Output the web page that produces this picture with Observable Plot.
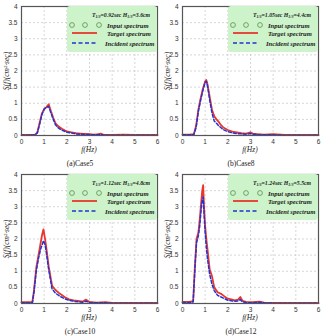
<!DOCTYPE html>
<html>
<head>
<meta charset="utf-8">
<script src="https://cdn.jsdelivr.net/npm/d3@7"></script>
<script src="https://cdn.jsdelivr.net/npm/@observablehq/plot@0.6"></script>
<style>
  body { margin: 0; background: #fff; }
  #root { position: relative; width: 321px; height: 336px; overflow: hidden; background:#fff; }
  .panel { position: absolute; width: 159px; height: 168px; }
  .panel svg { position: absolute; left: 0; top: 0; overflow: visible; }
  .ylab { position: absolute; left: 6px; top: 71px; transform: translate(-50%,-50%) rotate(-90deg); white-space: nowrap;
          font: italic 7.5px "Liberation Serif", "DejaVu Serif", serif; color: #222; }
  .xlab { position: absolute; left: 89px; top: 149px; transform: translate(-50%,-50%); white-space: nowrap;
          font: italic 7.5px "Liberation Serif", "DejaVu Serif", serif; color: #222; }
  .cap { position: absolute; left: 80px; top: 163px; transform: translate(-50%,-50%); white-space: nowrap;
         font: 7.5px "Liberation Serif", "DejaVu Serif", serif; color: #222; }
  .legend { position: absolute; left: 67px; top: 6px; width: 90px; height: 46px; background: #cdf3cb; border-radius: 3px;
            font: italic bold 6.6px "Liberation Serif", "DejaVu Serif", serif; color: #222; }
  .legend div { position: absolute; white-space: nowrap; transform: translateY(-50%); }
  .legend .ttl { font-size: 5.8px; transform: translate(-50%,-50%); }
  .legend sub { font-size: 4px; vertical-align: -1px; }
  .legend svg { position: absolute; left: 0; top: 0; }
</style>
</head>
<body>
<div id="root"></div>
<script>
// ---- data ----
const xTicks = [0, 1, 2, 3, 4, 5, 6];
const yTicks = [0, 0.5, 1, 1.5, 2, 2.5, 3, 3.5, 4];

const captions = ["(a)Case5", "(b)Case8", "(c)Case10", "(d)Case12"];
const periods = ["0.92", "1.05", "1.12", "1.24"];
const heights = ["3.6", "4.4", "4.8", "5.5"];

const freqA = [0, 0.3, 0.6, 0.7, 0.8, 0.9, 1.0, 1.1, 1.2, 1.3, 1.4, 1.5, 1.6, 1.7, 1.8, 1.9, 2.0, 2.2, 2.4, 2.6, 2.8, 3.0, 3.2, 3.4, 3.5, 3.6, 3.8, 4.0, 4.5, 5.0, 5.5, 6.0];
const targetA = [0.02, 0.02, 0.03, 0.1, 0.4, 0.68, 0.82, 0.88, 0.97, 0.75, 0.55, 0.38, 0.3, 0.25, 0.2, 0.16, 0.13, 0.1, 0.07, 0.06, 0.05, 0.04, 0.03, 0.04, 0.06, 0.03, 0.02, 0.02, 0.03, 0.02, 0.02, 0.02];
const incidentA = [0.01, 0.01, 0.02, 0.08, 0.35, 0.65, 0.82, 0.87, 0.9, 0.7, 0.5, 0.33, 0.25, 0.2, 0.16, 0.13, 0.1, 0.08, 0.05, 0.04, 0.03, 0.03, 0.02, 0.03, 0.03, 0.02, 0.01, 0.01, 0.01, 0.01, 0.01, 0.01];

const freqB = [0, 0.3, 0.5, 0.6, 0.7, 0.8, 0.9, 1.0, 1.05, 1.1, 1.2, 1.3, 1.4, 1.5, 1.6, 1.7, 1.8, 2.0, 2.2, 2.4, 2.6, 2.8, 3.0, 3.1, 3.3, 3.6, 4.0, 4.5, 5.0, 5.5, 6.0];
const targetB = [0.03, 0.03, 0.04, 0.3, 0.8, 1.15, 1.45, 1.68, 1.72, 1.6, 1.2, 0.8, 0.6, 0.5, 0.42, 0.32, 0.25, 0.17, 0.12, 0.1, 0.07, 0.06, 0.1, 0.06, 0.04, 0.03, 0.04, 0.02, 0.02, 0.02, 0.02];
const incidentB = [0.02, 0.02, 0.03, 0.25, 0.75, 1.1, 1.4, 1.65, 1.68, 1.55, 1.1, 0.7, 0.45, 0.38, 0.3, 0.24, 0.18, 0.12, 0.08, 0.06, 0.05, 0.04, 0.06, 0.04, 0.03, 0.02, 0.02, 0.01, 0.01, 0.01, 0.01];

const freqC = [0, 0.3, 0.48, 0.55, 0.65, 0.75, 0.85, 0.9, 0.97, 1.05, 1.1, 1.2, 1.3, 1.35, 1.5, 1.7, 1.9, 2.1, 2.3, 2.5, 2.7, 2.85, 3.0, 3.3, 3.7, 4.0, 4.5, 5.0, 5.5, 6.0];
const targetC = [0.04, 0.04, 0.05, 0.4, 1.1, 1.5, 1.9, 2.1, 2.3, 1.95, 1.7, 1.15, 0.75, 0.55, 0.42, 0.3, 0.2, 0.13, 0.1, 0.08, 0.06, 0.12, 0.05, 0.03, 0.04, 0.02, 0.02, 0.02, 0.02, 0.02];
const incidentC = [0.02, 0.02, 0.03, 0.35, 1.0, 1.4, 1.7, 1.8, 1.95, 1.8, 1.55, 1.05, 0.65, 0.45, 0.32, 0.22, 0.15, 0.1, 0.07, 0.05, 0.04, 0.07, 0.03, 0.02, 0.02, 0.01, 0.01, 0.01, 0.01, 0.01];

const freqD = [0, 0.3, 0.47, 0.55, 0.62, 0.7, 0.76, 0.82, 0.87, 0.91, 0.95, 1.0, 1.05, 1.1, 1.2, 1.3, 1.4, 1.55, 1.7, 1.85, 2.0, 2.2, 2.3, 2.45, 2.55, 2.65, 2.8, 3.1, 3.4, 3.6, 4.0, 4.5, 5.0, 5.5, 6.0];
const targetD = [0.05, 0.05, 0.07, 1.2, 2.0, 2.2, 2.6, 3.1, 3.5, 3.67, 3.0, 2.4, 2.0, 1.7, 1.05, 0.85, 0.5, 0.35, 0.3, 0.22, 0.15, 0.12, 0.1, 0.12, 0.2, 0.08, 0.05, 0.04, 0.06, 0.03, 0.02, 0.02, 0.02, 0.02, 0.02];
const incidentD = [0.03, 0.03, 0.05, 1.1, 1.9, 2.1, 2.4, 2.9, 3.2, 3.3, 2.8, 2.2, 1.75, 1.4, 0.9, 0.6, 0.4, 0.25, 0.2, 0.15, 0.1, 0.08, 0.07, 0.08, 0.12, 0.05, 0.03, 0.02, 0.04, 0.02, 0.01, 0.01, 0.01, 0.01, 0.01];

const freqs = [freqA, freqB, freqC, freqD];
const targets = [targetA, targetB, targetC, targetD];
const incidents = [incidentA, incidentB, incidentC, incidentD];

const RED = "#e8372c", BLUE = "#2233d6";
const positions = [[0, 0], [161, 0], [0, 168], [161, 168]];

const root = document.getElementById("root");

captions.forEach((cap, i) => {
  const rows = freqs[i].map((f, k) => ({f, t: targets[i][k], n: incidents[i][k]}));
  const chart = Plot.plot({
    width: 159, height: 155,
    marginLeft: 21, marginRight: 2, marginTop: 6, marginBottom: 20,
    style: {fontFamily: "Liberation Sans, Arial, sans-serif", fontSize: "6.5px", color: "#333", background: "transparent"},
    x: {domain: [0, 6], ticks: xTicks, label: null, tickSize: 0, tickPadding: 4, tickFormat: d => String(d)},
    y: {domain: [0, 4], ticks: yTicks, label: null, tickSize: 0, tickPadding: 4, tickFormat: d => String(d)},
    marks: [
      Plot.gridX(xTicks, {stroke: "#bbb", strokeOpacity: 1, strokeWidth: 0.6, strokeDasharray: "2,2"}),
      Plot.gridY(yTicks, {stroke: "#bbb", strokeOpacity: 1, strokeWidth: 0.6, strokeDasharray: "2,2"}),
      Plot.line(rows, {x: "f", y: "t", stroke: RED, strokeWidth: 1.8, curve: "linear"}),
      Plot.line(rows, {x: "f", y: "n", stroke: BLUE, strokeWidth: 1.5, strokeDasharray: "3,2", curve: "linear"}),
      Plot.frame({stroke: "#555", strokeWidth: 1.2})
    ]
  });
  const p = document.createElement("div");
  p.className = "panel";
  p.style.left = positions[i][0] + "px";
  p.style.top = positions[i][1] + "px";
  p.appendChild(chart);
  p.insertAdjacentHTML("beforeend", `
    <div class="ylab">S(f)(cm²·sec)</div>
    <div class="xlab">f(Hz)</div>
    <div class="cap">${cap}</div>
    <div class="legend">
      <svg width="90" height="46">
        <circle cx="5" cy="19" r="2.4" fill="none" stroke="#5b8f4e" stroke-width="0.8"/>
        <circle cx="18" cy="19" r="2.4" fill="none" stroke="#5b8f4e" stroke-width="0.8"/>
        <circle cx="32" cy="19" r="2.4" fill="none" stroke="#5b8f4e" stroke-width="0.8"/>
        <line x1="5" x2="30" y1="27" y2="27" stroke="${RED}" stroke-width="1.8"/>
        <line x1="5" x2="30" y1="37" y2="37" stroke="${BLUE}" stroke-width="1.6" stroke-dasharray="4,2.5"/>
      </svg>
      <div class="ttl" style="left:54px;top:9px">T<sub>1/3</sub>=${periods[i]}sec H<sub>1/3</sub>=${heights[i]}cm</div>
      <div style="left:40px;top:19px">Input spectrum</div>
      <div style="left:40px;top:27px">Target spectrum</div>
      <div style="left:38px;top:37px">Incident spectrum</div>
    </div>`);
  root.appendChild(p);
});
</script>
</body>
</html>
